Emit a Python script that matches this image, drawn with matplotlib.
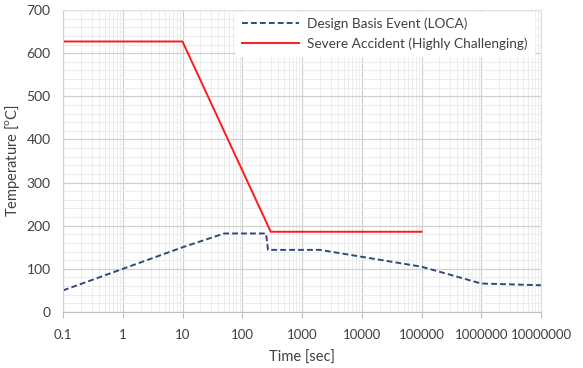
import matplotlib
matplotlib.use("Agg")
import matplotlib.pyplot as plt
from matplotlib.ticker import LogLocator, FixedLocator, NullFormatter, MultipleLocator

plt.rcParams["font.family"] = ["Lato", "DejaVu Sans"]

# Design Basis Event (LOCA)
dbe_time = [0.1, 1, 10, 50, 250, 270, 2000, 100000, 1000000, 10000000]
dbe_temp = [50, 100, 150, 182, 182, 144, 144, 105, 66, 62]

# Severe Accident (Highly Challenging)
sa_time = [0.1, 10, 300, 100000]
sa_temp = [627, 627, 186, 186]

xticks = [0.1, 1, 10, 100, 1000, 10000, 100000, 1000000, 10000000]
xlabels = ["0.1", "1", "10", "100", "1000", "10000", "100000", "1000000", "10000000"]

fig = plt.figure(figsize=(5.83, 3.68), dpi=100)
ax = fig.add_axes([63 / 583, 1 - 312 / 368, 478 / 583, 302 / 368])

ax.plot(dbe_time, dbe_temp, color="#2f4a7a", linestyle=(0, (3, 1.6)), linewidth=1.4,
        label="Design Basis Event (LOCA)")
ax.plot(sa_time, sa_temp, color="#ff1a1a", linewidth=1.4,
        label="Severe Accident (Highly Challenging)")

ax.set_xscale("log")
ax.set_xlim(0.1, 1e7)
ax.set_ylim(0, 700)
ax.xaxis.set_major_locator(FixedLocator(xticks))
ax.set_xticklabels(xlabels)
ax.xaxis.set_minor_locator(LogLocator(base=10, subs=range(2, 10), numticks=100))
ax.xaxis.set_minor_formatter(NullFormatter())
ax.yaxis.set_major_locator(MultipleLocator(100))
ax.yaxis.set_minor_locator(MultipleLocator(20))

ax.grid(which="major", color="#d0d0d0", linewidth=0.9)
ax.grid(which="minor", color="#ececec", linewidth=0.7)
ax.set_axisbelow(True)

for side in ["top", "right"]:
    ax.spines[side].set_color("#e0e0e0")
ax.spines["left"].set_color("#d0d0d0")
ax.spines["bottom"].set_color("#bfbfbf")
ax.tick_params(axis="y", which="both", length=0, labelsize=10, colors="#404040", pad=9)
ax.tick_params(axis="x", which="major", length=4, color="#bfbfbf", labelsize=9.5,
               labelcolor="#404040", pad=8)
ax.tick_params(axis="x", which="minor", length=0)

ax.set_xlabel("Time [sec]", fontsize=10.5, color="#404040", labelpad=7)
ax.set_ylabel("Temperature [$^\\mathregular{o}$C]", fontsize=10.5, color="#404040")
ax.yaxis.set_label_coords(-0.085, 0.5)

leg = ax.legend(loc="upper right", bbox_to_anchor=(0.985, 0.995), borderaxespad=0,
                fontsize=9.8, frameon=True, fancybox=False, edgecolor="white",
                framealpha=1, handlelength=4.2, handletextpad=0.6,
                borderpad=0.45, labelspacing=0.55)
for t in leg.get_texts():
    t.set_color("#404040")

fig.savefig("out.png", dpi=100, facecolor="white")
